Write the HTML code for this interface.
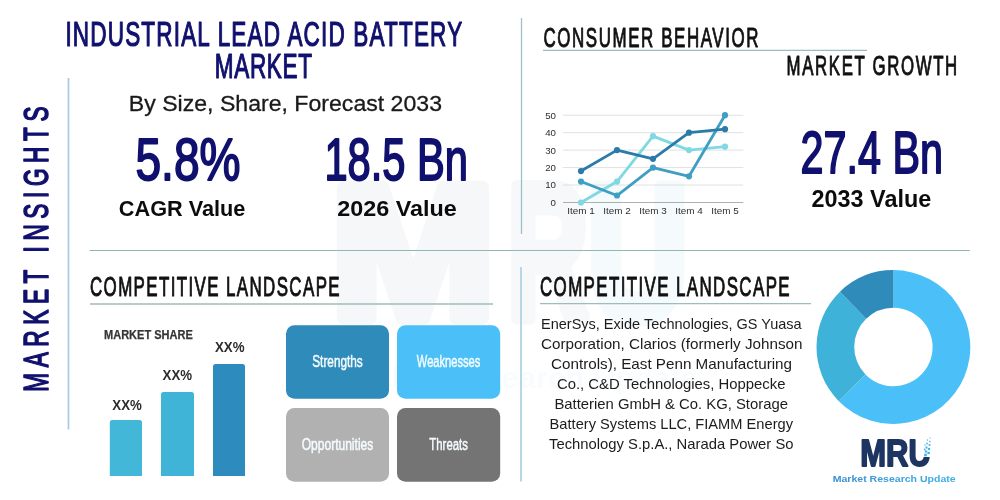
<!DOCTYPE html>
<html lang="en">
<head>
<meta charset="utf-8">
<title>Industrial Lead Acid Battery Market</title>
<style>
html,body{margin:0;padding:0;background:#ffffff;}
body{width:1000px;height:500px;overflow:hidden;}
svg{display:block;font-family:"Liberation Sans",sans-serif;}
</style>
</head>
<body>
<svg width="1000" height="500" viewBox="0 0 1000 500">
<defs><linearGradient id="lg" gradientUnits="userSpaceOnUse" x1="832" y1="0" x2="956" y2="0"><stop offset="0" stop-color="#3b8ed0"/><stop offset="1" stop-color="#3fb2e6"/></linearGradient></defs>
<rect x="0" y="0" width="1000" height="500" fill="#ffffff"/>
<g opacity="0.045">
<text x="331" y="318" font-size="190" fill="#50607c" textLength="164" lengthAdjust="spacingAndGlyphs" font-weight="bold" stroke="#50607c" stroke-width="14" stroke-linejoin="round">M</text>
<text x="508" y="318" font-size="190" fill="#466f9f" textLength="80" lengthAdjust="spacingAndGlyphs" font-weight="bold" stroke="#466f9f" stroke-width="14" stroke-linejoin="round">R</text>
<text x="588" y="318" font-size="190" fill="#3a9ad9" textLength="100" lengthAdjust="spacingAndGlyphs" font-weight="bold" stroke="#3a9ad9" stroke-width="14" stroke-linejoin="round">U</text>
<text x="336" y="388" font-size="30" fill="#3a9ad9" textLength="362" lengthAdjust="spacingAndGlyphs" font-weight="bold" opacity="0.7">Market Research Update</text>
</g>
<line x1="68.5" y1="78" x2="68.5" y2="429.5" stroke="#a6cbe2" stroke-width="1.7"/>
<line x1="521.5" y1="18" x2="521.5" y2="234" stroke="#9fbfd0" stroke-width="1.3"/>
<line x1="521.0" y1="267" x2="521.0" y2="481.5" stroke="#acd0e2" stroke-width="1.7"/>
<line x1="89.6" y1="250.5" x2="970" y2="250.5" stroke="#93b5b3" stroke-width="1.2"/>
<line x1="543" y1="50.4" x2="867" y2="50.4" stroke="#9cbdbb" stroke-width="1.2"/>
<line x1="90" y1="304" x2="493" y2="304" stroke="#9cbdbb" stroke-width="1.3"/>
<line x1="540" y1="303.7" x2="811" y2="303.7" stroke="#9cbdbb" stroke-width="1.3"/>
<g transform="translate(48.3,391.8) rotate(-90)">
<text transform="translate(0,0) scale(0.65,1)" font-size="34.8" fill="#10106e" textLength="438.92" lengthAdjust="spacing" stroke="#10106e" stroke-width="1.6" stroke-linejoin="round">MARKET INSIGHTS</text>
</g>
<text transform="translate(65.4,46) scale(0.63,1)" font-size="35.8" fill="#10106e" textLength="629.84" lengthAdjust="spacing" stroke="#10106e" stroke-width="1.25" stroke-linejoin="round">INDUSTRIAL LEAD ACID BATTERY</text>
<text transform="translate(214.8,78) scale(0.63,1)" font-size="35.8" fill="#10106e" textLength="154.29" lengthAdjust="spacing" stroke="#10106e" stroke-width="1.25" stroke-linejoin="round">MARKET</text>
<text x="128.8" y="111.2" font-size="21.6" fill="#1a1a1a" textLength="313.2" lengthAdjust="spacingAndGlyphs" stroke="#1a1a1a" stroke-width="0.3" stroke-linejoin="round">By Size, Share, Forecast 2033</text>
<text x="135.5" y="179.8" font-size="59" fill="#10106e" textLength="105" lengthAdjust="spacingAndGlyphs" stroke="#10106e" stroke-width="1.9" stroke-linejoin="round">5.8%</text>
<text x="118.8" y="215.5" font-size="22.8" fill="#0c0c0c" textLength="126.6" lengthAdjust="spacingAndGlyphs" font-weight="bold">CAGR Value</text>
<text x="324.4" y="179.8" font-size="59" fill="#10106e" textLength="143.6" lengthAdjust="spacingAndGlyphs" stroke="#10106e" stroke-width="1.9" stroke-linejoin="round">18.5 Bn</text>
<text x="337.2" y="215.5" font-size="22.8" fill="#0c0c0c" textLength="119.5" lengthAdjust="spacingAndGlyphs" font-weight="bold">2026 Value</text>
<text x="800.6" y="172.5" font-size="58.5" fill="#10106e" textLength="142.3" lengthAdjust="spacingAndGlyphs" stroke="#10106e" stroke-width="1.9" stroke-linejoin="round">27.4 Bn</text>
<text x="811.6" y="207.3" font-size="23.0" fill="#0c0c0c" textLength="119.6" lengthAdjust="spacingAndGlyphs" font-weight="bold">2033 Value</text>
<text transform="translate(543.5,47) scale(0.6,1)" font-size="28.2" fill="#111111" textLength="358.33" lengthAdjust="spacing" stroke="#111111" stroke-width="1.0" stroke-linejoin="round">CONSUMER BEHAVIOR</text>
<text transform="translate(786.6,75.3) scale(0.6,1)" font-size="28.0" fill="#111111" textLength="284.33" lengthAdjust="spacing" stroke="#111111" stroke-width="1.0" stroke-linejoin="round">MARKET GROWTH</text>
<text transform="translate(90,296) scale(0.6,1)" font-size="28.2" fill="#111111" textLength="416.0" lengthAdjust="spacing" stroke="#111111" stroke-width="1.0" stroke-linejoin="round">COMPETITIVE LANDSCAPE</text>
<text transform="translate(540,296) scale(0.6,1)" font-size="28.2" fill="#111111" textLength="416.0" lengthAdjust="spacing" stroke="#111111" stroke-width="1.0" stroke-linejoin="round">COMPETITIVE LANDSCAPE</text>
<line x1="563" y1="202.5" x2="743.3" y2="202.5" stroke="#9a9a9a" stroke-width="0.8"/>
<text x="556" y="205.9" font-size="9.7" fill="#2e2e2e" text-anchor="end">0</text>
<line x1="563" y1="185.04" x2="743.3" y2="185.04" stroke="#d9d9d9" stroke-width="0.8"/>
<text x="556" y="188.44" font-size="9.7" fill="#2e2e2e" text-anchor="end">10</text>
<line x1="563" y1="167.58" x2="743.3" y2="167.58" stroke="#d9d9d9" stroke-width="0.8"/>
<text x="556" y="170.98000000000002" font-size="9.7" fill="#2e2e2e" text-anchor="end">20</text>
<line x1="563" y1="150.12" x2="743.3" y2="150.12" stroke="#d9d9d9" stroke-width="0.8"/>
<text x="556" y="153.52" font-size="9.7" fill="#2e2e2e" text-anchor="end">30</text>
<line x1="563" y1="132.66" x2="743.3" y2="132.66" stroke="#d9d9d9" stroke-width="0.8"/>
<text x="556" y="136.06" font-size="9.7" fill="#2e2e2e" text-anchor="end">40</text>
<line x1="563" y1="115.2" x2="743.3" y2="115.2" stroke="#d9d9d9" stroke-width="0.8"/>
<text x="556" y="118.60000000000001" font-size="9.7" fill="#2e2e2e" text-anchor="end">50</text>
<text x="581" y="214.4" font-size="9.9" fill="#2e2e2e" text-anchor="middle">Item 1</text>
<text x="617" y="214.4" font-size="9.9" fill="#2e2e2e" text-anchor="middle">Item 2</text>
<text x="653" y="214.4" font-size="9.9" fill="#2e2e2e" text-anchor="middle">Item 3</text>
<text x="689" y="214.4" font-size="9.9" fill="#2e2e2e" text-anchor="middle">Item 4</text>
<text x="725" y="214.4" font-size="9.9" fill="#2e2e2e" text-anchor="middle">Item 5</text>
<polyline points="581,202.5 617,181.55 653,136.15 689,150.12 725,146.63" fill="none" stroke="#7fd9e2" stroke-width="2.8" stroke-linejoin="round" stroke-linecap="round"/>
<circle cx="581" cy="202.5" r="3.1" fill="#7fd9e2"/>
<circle cx="617" cy="181.55" r="3.1" fill="#7fd9e2"/>
<circle cx="653" cy="136.15" r="3.1" fill="#7fd9e2"/>
<circle cx="689" cy="150.12" r="3.1" fill="#7fd9e2"/>
<circle cx="725" cy="146.63" r="3.1" fill="#7fd9e2"/>
<polyline points="581,181.55 617,195.52 653,167.58 689,176.31 725,115.2" fill="none" stroke="#3f9fc3" stroke-width="2.8" stroke-linejoin="round" stroke-linecap="round"/>
<circle cx="581" cy="181.55" r="3.1" fill="#3f9fc3"/>
<circle cx="617" cy="195.52" r="3.1" fill="#3f9fc3"/>
<circle cx="653" cy="167.58" r="3.1" fill="#3f9fc3"/>
<circle cx="689" cy="176.31" r="3.1" fill="#3f9fc3"/>
<circle cx="725" cy="115.2" r="3.1" fill="#3f9fc3"/>
<polyline points="581,171.07 617,150.12 653,158.85 689,132.66 725,129.17" fill="none" stroke="#2b7ba9" stroke-width="2.8" stroke-linejoin="round" stroke-linecap="round"/>
<circle cx="581" cy="171.07" r="3.1" fill="#2b7ba9"/>
<circle cx="617" cy="150.12" r="3.1" fill="#2b7ba9"/>
<circle cx="653" cy="158.85" r="3.1" fill="#2b7ba9"/>
<circle cx="689" cy="132.66" r="3.1" fill="#2b7ba9"/>
<circle cx="725" cy="129.17" r="3.1" fill="#2b7ba9"/>
<text x="104" y="339" font-size="12.5" fill="#353535" textLength="88.8" lengthAdjust="spacingAndGlyphs" font-weight="bold" stroke="#353535" stroke-width="0.25" stroke-linejoin="round">MARKET SHARE</text>
<path d="M109.8,476 V422.5 q0,-2.5 2.5,-2.5 H139.5 q2.5,0 2.5,2.5 V476 Z" fill="#43b7d8"/>
<path d="M161,476 V394.5 q0,-2.5 2.5,-2.5 H191.5 q2.5,0 2.5,2.5 V476 Z" fill="#3fb4d6"/>
<path d="M213,476 V366.5 q0,-2.5 2.5,-2.5 H242.5 q2.5,0 2.5,2.5 V476 Z" fill="#2d8cbd"/>
<text x="112.3" y="410" font-size="14.0" fill="#2c2c2c" textLength="29.5" lengthAdjust="spacingAndGlyphs" font-weight="bold">XX%</text>
<text x="162.6" y="380" font-size="14.0" fill="#2c2c2c" textLength="29.5" lengthAdjust="spacingAndGlyphs" font-weight="bold">XX%</text>
<text x="215.0" y="352" font-size="14.0" fill="#2c2c2c" textLength="29.5" lengthAdjust="spacingAndGlyphs" font-weight="bold">XX%</text>
<rect x="286" y="325.2" width="103" height="73.6" fill="#2e8bba" rx="8.5"/>
<text x="312.25" y="366.6" font-size="16.3" fill="#f4fbfe" textLength="50.5" lengthAdjust="spacingAndGlyphs" stroke="#f4fbfe" stroke-width="0.5" stroke-linejoin="round">Strengths</text>
<rect x="397" y="325.2" width="103.2" height="73.6" fill="#4bc0f8" rx="8.5"/>
<text x="416.85" y="366.6" font-size="16.3" fill="#f4fbfe" textLength="63.5" lengthAdjust="spacingAndGlyphs" stroke="#f4fbfe" stroke-width="0.5" stroke-linejoin="round">Weaknesses</text>
<rect x="286" y="408" width="103" height="73.7" fill="#b1b1b1" rx="8.5"/>
<text x="301.75" y="450.15" font-size="16.3" fill="#f4fbfe" textLength="71.5" lengthAdjust="spacingAndGlyphs" stroke="#f4fbfe" stroke-width="0.5" stroke-linejoin="round">Opportunities</text>
<rect x="397" y="408" width="103.2" height="73.7" fill="#747474" rx="8.5"/>
<text x="429.35" y="450.15" font-size="16.3" fill="#f4fbfe" textLength="38.5" lengthAdjust="spacingAndGlyphs" stroke="#f4fbfe" stroke-width="0.5" stroke-linejoin="round">Threats</text>
<text x="541" y="328.7" font-size="14.5" fill="#1c1c1c" textLength="260.6" lengthAdjust="spacingAndGlyphs">EnerSys, Exide Technologies, GS Yuasa</text>
<text x="541" y="348.77" font-size="14.5" fill="#1c1c1c" textLength="261.5" lengthAdjust="spacingAndGlyphs">Corporation, Clarios (formerly Johnson</text>
<text x="551" y="368.84" font-size="14.5" fill="#1c1c1c" textLength="241" lengthAdjust="spacingAndGlyphs">Controls), East Penn Manufacturing</text>
<text x="557" y="388.91" font-size="14.5" fill="#1c1c1c" textLength="228.4" lengthAdjust="spacingAndGlyphs">Co., C&amp;D Technologies, Hoppecke</text>
<text x="554.4" y="408.98" font-size="14.5" fill="#1c1c1c" textLength="233.6" lengthAdjust="spacingAndGlyphs">Batterien GmbH &amp; Co. KG, Storage</text>
<text x="549.6" y="429.05" font-size="14.5" fill="#1c1c1c" textLength="243.4" lengthAdjust="spacingAndGlyphs">Battery Systems LLC, FIAMM Energy</text>
<text x="549" y="449.12" font-size="14.5" fill="#1c1c1c" textLength="244.5" lengthAdjust="spacingAndGlyphs">Technology S.p.A., Narada Power So</text>
<path d="M893.40,270.10 A76.9,76.9 0 1 1 838.55,400.90 L865.44,374.48 A39.2,39.2 0 1 0 893.40,307.80 Z" fill="#4bc0f8"/>
<path d="M838.55,400.90 A76.9,76.9 0 0 1 839.98,291.68 L866.17,318.80 A39.2,39.2 0 0 0 865.44,374.48 Z" fill="#3fb2d9"/>
<path d="M839.98,291.68 A76.9,76.9 0 0 1 893.40,270.10 L893.40,307.80 A39.2,39.2 0 0 0 866.17,318.80 Z" fill="#2e8bba"/>
<text x="860.3" y="466.2" font-size="37" fill="#1f3561" textLength="70.6" lengthAdjust="spacingAndGlyphs" font-weight="bold" stroke="#1f3561" stroke-width="1.8" stroke-linejoin="round">MRU</text>
<rect x="922.5" y="434" width="10.5" height="23" fill="#ffffff"/>
<rect x="924.2" y="453.7" width="2.6" height="2.6" fill="#45b4ea"/>
<rect x="927.4" y="451.8" width="2.4" height="2.4" fill="#45b4ea"/>
<rect x="924.9" y="450.4" width="2.2" height="2.2" fill="#45b4ea"/>
<rect x="927.9" y="447.9" width="2.2" height="2.2" fill="#45b4ea"/>
<rect x="925.5" y="446.5" width="2" height="2" fill="#45b4ea"/>
<rect x="928.6" y="444.1" width="1.8" height="1.8" fill="#45b4ea"/>
<rect x="926.2" y="442.7" width="1.6" height="1.6" fill="#45b4ea"/>
<rect x="929.1" y="440.8" width="1.4" height="1.4" fill="#45b4ea"/>
<rect x="926.9" y="439.4" width="1.2" height="1.2" fill="#45b4ea"/>
<rect x="929.5" y="437.5" width="1.0" height="1.0" fill="#45b4ea"/>
<rect x="924.4" y="444.4" width="1.2" height="1.2" fill="#45b4ea"/>
<rect x="923.8" y="448.7" width="1.6" height="1.6" fill="#45b4ea"/>
<text x="832.7" y="481.5" font-size="9.9" fill="url(#lg)" textLength="123" lengthAdjust="spacingAndGlyphs" font-weight="bold">Market Research Update</text>
</svg>
</body>
</html>
